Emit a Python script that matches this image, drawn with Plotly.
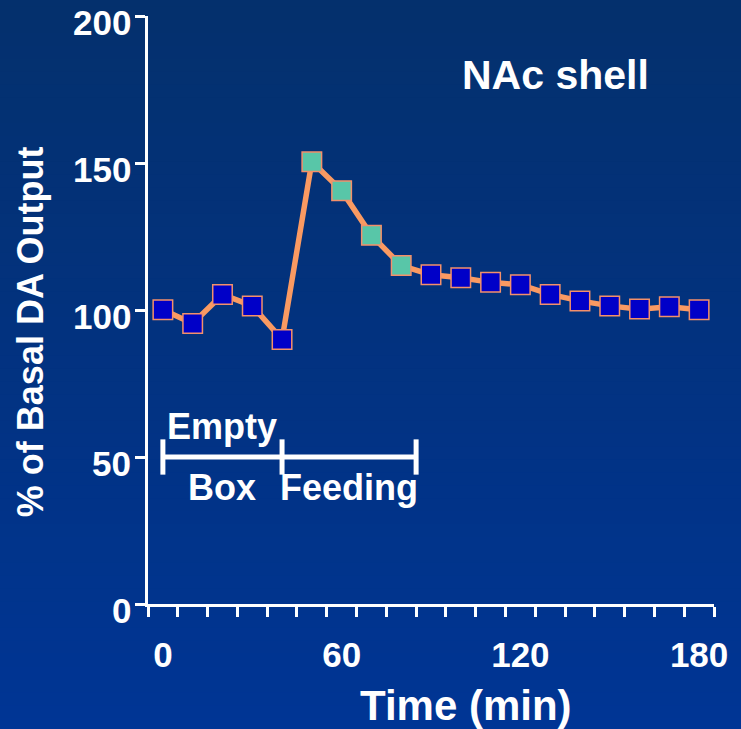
import plotly.graph_objects as go

# ---- data ----
time_min = [0, 10, 20, 30, 40, 50, 60, 70, 80, 90, 100, 110, 120, 130, 140, 150, 160, 170, 180]
da_pct = [100.1, 95.4, 105.3, 101.4, 90.0, 150.4, 140.6, 125.4, 115.1, 112.0, 111.0, 109.4,
          108.6, 105.3, 103.1, 101.4, 100.3, 101.1, 100.1]
x_tickvals = [0, 60, 120, 180]
x_ticktext = ["0", "60", "120", "180"]
y_tickvals = [0, 50, 100, 150, 200]
y_ticktext = ["0", "50", "100", "150", "200"]
phase_bounds = [0, 40, 85]
phase_level = 50
feeding_marked_until = 80
region_label = "NAc shell"
x_title = "Time (min)"
y_title = "% of Basal DA Output"

FONT = "Liberation Sans, Arial, sans-serif"
BLUE = "#0000C8"
TEAL = "#58C6A8"
SALMON = "#FA9A62"
EDGE = "#F4906A"

marker_colors = [TEAL if (phase_bounds[1] < t <= feeding_marked_until) else BLUE for t in time_min]

fig = go.Figure()
fig.add_trace(go.Scatter(
    x=time_min, y=da_pct, mode="lines+markers",
    line=dict(color=SALMON, width=5.5),
    marker=dict(symbol="square", size=19.5, color=marker_colors,
                line=dict(color=EDGE, width=1.5)),
    cliponaxis=False, showlegend=False, hoverinfo="x+y",
))

shapes = []
# background vertical gradient (paper coordinates, covering whole figure)
n = 60
top = (4, 48, 108)
bot = (0, 53, 150)
y_lo, y_hi = -0.26, 1.06
for i in range(n):
    f = i / (n - 1)
    c = tuple(round(top[k] + (bot[k] - top[k]) * f) for k in range(3))
    y1 = y_hi - (y_hi - y_lo) * i / n
    y0 = y_hi - (y_hi - y_lo) * (i + 1) / n - 0.002
    shapes.append(dict(type="rect", xref="paper", yref="paper", x0=-0.3, x1=1.1,
                       y0=y0, y1=y1, fillcolor="rgb(%d,%d,%d)" % c,
                       line=dict(width=0), layer="below"))

# phase bracket
shapes.append(dict(type="line", xref="x", yref="y", x0=phase_bounds[0], x1=phase_bounds[-1],
                   y0=phase_level, y1=phase_level, line=dict(color="white", width=5)))
for b in phase_bounds:
    shapes.append(dict(type="line", xref="x", yref="y", x0=b, x1=b,
                       y0=phase_level - 6, y1=phase_level + 6, line=dict(color="white", width=5)))

def ann(text, x, y, size, xref="x", yref="y", angle=0, xanchor="center", yshift=0):
    return dict(text=text, x=x, y=y, xref=xref, yref=yref, showarrow=False,
                xanchor=xanchor, yanchor="middle", textangle=angle, yshift=yshift,
                font=dict(family=FONT, size=size, color="white", weight="bold"))

annotations = [
    ann(region_label, 131.7, 180, 41),
    ann("Empty", (phase_bounds[0] + phase_bounds[1]) / 2, 60.5, 36),
    ann("Box", (phase_bounds[0] + phase_bounds[1]) / 2, 39.5, 36),
    ann("Feeding", (phase_bounds[1] + phase_bounds[2]) / 2, 39.5, 36),
    ann(x_title, 101.7, -0.172, 42, yref="paper"),
    ann(y_title, -0.2085, 0.464, 36, xref="paper", yref="paper", angle=-90),
]
# y tick labels (sit slightly below their tick marks, as in the original slide)
for v, t in zip(y_tickvals, y_ticktext):
    annotations.append(ann(t, -0.026, v, 35, xref="paper", yref="y", xanchor="right", yshift=-6))

fig.update_layout(
    width=741, height=729,
    margin=dict(l=148, r=27, t=16, b=125, autoexpand=False),
    paper_bgcolor="#02348A", plot_bgcolor="rgba(0,0,0,0)",
    shapes=shapes, annotations=annotations,
    xaxis=dict(range=[-5, 185], showgrid=False, zeroline=False, automargin=False,
               showline=True, linecolor="white", linewidth=3,
               tickmode="array", tickvals=x_tickvals, ticktext=x_ticktext, ticks="",
               ticklabelstandoff=18, ticklabeloverflow="allow",
               tickfont=dict(family=FONT, size=35, color="white", weight="bold"),
               minor=dict(ticks="outside", tickmode="linear", tick0=-5, dtick=10,
                          ticklen=10, tickwidth=3, tickcolor="white", showgrid=False)),
    yaxis=dict(range=[0, 200], showgrid=False, zeroline=False, automargin=False,
               showline=True, linecolor="white", linewidth=3,
               tickmode="array", tickvals=y_tickvals, ticks="outside", ticklen=10,
               tickwidth=3, tickcolor="white", showticklabels=False),
)

fig.write_html("out.html", config={"displayModeBar": False},
               post_script="document.body.style.margin='0';document.body.style.overflow='hidden';")
